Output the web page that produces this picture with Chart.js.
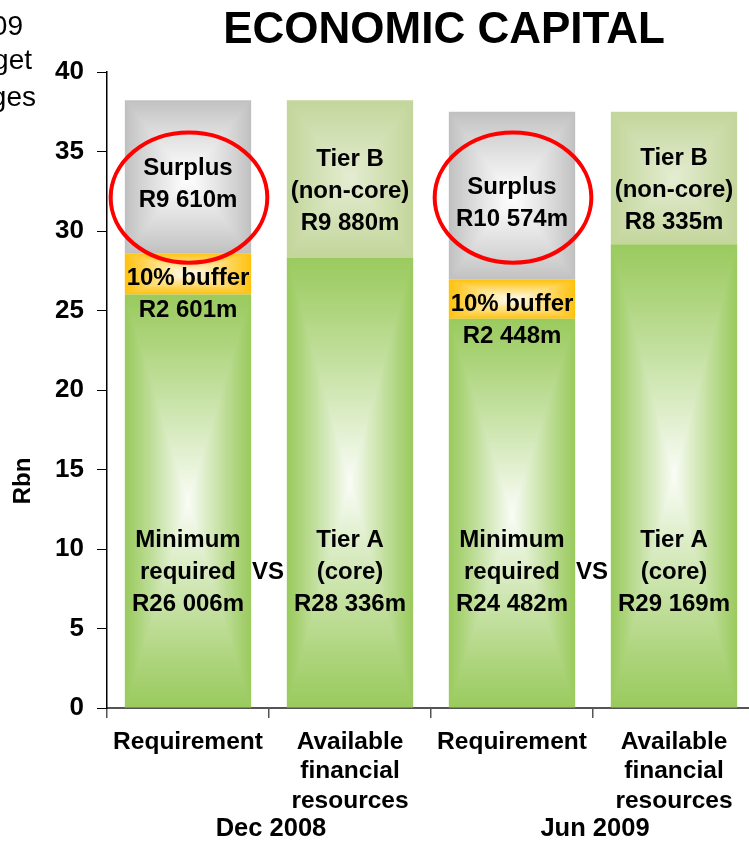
<!DOCTYPE html>
<html>
<head>
<meta charset="utf-8">
<script src="https://cdn.jsdelivr.net/npm/chart.js@4/dist/chart.umd.min.js"></script>
<style>
  html, body { margin: 0; padding: 0; background: #fff; overflow: hidden; }
  #wrap { position: relative; width: 755px; height: 842px; }
</style>
</head>
<body>
<div id="wrap"><canvas id="ecChart" width="755" height="842"></canvas></div>
<script>
/* ---------- data (Rbn) ---------- */
const categories = [["Requirement"], ["Available", "financial", "resources"],
                    ["Requirement"], ["Available", "financial", "resources"]];
const periods    = ["Dec 2008", "Jun 2009"];
const coreCap    = [26.006, 28.336, 24.482, 29.169];   // minimum required / tier A
const buffer10   = [2.601, null, 2.448, null];
const surplus    = [9.610, null, 10.574, null];
const tierB      = [null, 9.880, null, 8.335];
const coreNames  = [["Minimum", "required"], ["Tier A", "(core)"],
                    ["Minimum", "required"], ["Tier A", "(core)"]];
const sideText   = ["09", "get", "ges"];

/* ---------- helpers ---------- */
const FONT = "'Liberation Sans', Arial, Helvetica, sans-serif";
const fmtR = v => "R" + Math.round(v * 1000).toLocaleString("en-US").replace(/,/g, " ") + "m";
const bold = px => `bold ${px}px ${FONT}`;

/* soft white "path" glow laid over each bar segment */
const glowPlugin = {
  id: "glow",
  afterDatasetsDraw(chart) {
    const ctx = chart.ctx;
    chart.data.datasets.forEach((ds, i) => {
      chart.getDatasetMeta(i).data.forEach((bar, j) => {
        if (ds.data[j] == null) return;
        const { x, y, base, width } = bar.getProps(["x", "y", "base", "width"], true);
        const w = Math.round(width), h = Math.round(base - y);
        if (w < 2 || h < 2) return;
        const off = document.createElement("canvas");
        off.width = w; off.height = h;
        const octx = off.getContext("2d");
        const img = octx.createImageData(w, h);
        for (let py = 0; py < h; py++) {
          const dy = Math.abs(py + 0.5 - h / 2) / (h / 2);
          for (let px = 0; px < w; px++) {
            const dx = Math.abs(px + 0.5 - w / 2) / (w / 2);
            const t = Math.max(dx, dy);
            const a = ds.glow * Math.pow(Math.max(0, 1 - t), ds.glowPow);
            const k = (py * w + px) * 4;
            img.data[k] = 255; img.data[k + 1] = 255; img.data[k + 2] = 255;
            img.data[k + 3] = Math.round(a * 255);
          }
        }
        octx.putImageData(img, 0, 0);
        ctx.drawImage(off, Math.round(x - w / 2), Math.round(y));
      });
    });
  }
};

/* text inside the bars, title, axis title, ellipses */
const textPlugin = {
  id: "texts",
  afterDraw(chart) {
    const ctx = chart.ctx;
    const ys = chart.scales.y, xs = chart.scales.x;
    const bar = (ds, j) => chart.getDatasetMeta(ds).data[j];
    const mid = el => (el.y + el.base) / 2;

    ctx.save();
    ctx.fillStyle = "#000";
    ctx.textAlign = "center";
    ctx.textBaseline = "middle";

    const lines = (arr, cx, cy, lh) => {
      const top = cy - (arr.length - 1) * lh / 2;
      arr.forEach((s, k) => ctx.fillText(s, cx, top + k * lh));
    };

    ctx.font = bold(24);
    const LH = 32;
    const lowY = ys.getPixelForValue(8.5);

    categories.forEach((c, j) => {
      const b = bar(0, j);
      lines([...coreNames[j], fmtR(coreCap[j])], b.x, lowY, LH);
      if (buffer10[j] != null) {
        const f = bar(1, j);
        const by = mid(f) + 5;
        ctx.fillText("10% buffer", f.x, by);
        ctx.fillText(fmtR(buffer10[j]), f.x, by + 32);
      }
      if (surplus[j] != null) {
        const s = bar(2, j);
        lines(["Surplus", fmtR(surplus[j])], s.x, mid(s) + 8, LH);
        // red ring round the surplus
        ctx.save();
        ctx.strokeStyle = "#ff0000";
        ctx.lineWidth = 4;
        ctx.beginPath();
        ctx.ellipse(s.x + 1, ys.getPixelForValue(32.1), s.width * 0.62, s.width * 0.515, 0, 0, Math.PI * 2);
        ctx.stroke();
        ctx.restore();
      }
      if (tierB[j] != null) {
        const t = bar(3, j);
        lines(["Tier B", "(non-core)", fmtR(tierB[j])], t.x, mid(t) + 12, LH);
      }
    });

    // "VS" between each requirement / resources pair
    [0, 2].forEach(j => {
      const xm = (xs.getPixelForValue(j) + xs.getPixelForValue(j + 1)) / 2;
      ctx.fillText("VS", xm - 1, lowY);
    });

    // period captions under each pair
    ctx.font = bold(25.5);
    periods.forEach((p, k) => {
      const xm = (xs.getPixelForValue(2 * k) + xs.getPixelForValue(2 * k + 1)) / 2;
      ctx.fillText(p, xm + 2, 829);
    });

    // title
    ctx.font = bold(44);
    ctx.fillText("ECONOMIC CAPITAL", 444, 31);

    // y axis caption
    ctx.save();
    ctx.translate(23, 481);
    ctx.rotate(-Math.PI / 2);
    ctx.font = bold(24);
    ctx.fillText("Rbn", 0, 0);
    ctx.restore();

    // spill-over text from the neighbouring column
    ctx.font = `28px ${FONT}`;
    ctx.textAlign = "right";
    ctx.textBaseline = "alphabetic";
    ctx.fillText(sideText[0], 23, 35);
    ctx.fillText(sideText[1], 32, 69);
    ctx.fillText(sideText[2], 36, 106);
    ctx.restore();
  }
};

new Chart(document.getElementById("ecChart"), {
  type: "bar",
  data: {
    labels: categories,
    datasets: [
      { label: "Core",    data: coreCap,  backgroundColor: "#9bcb5f", glow: 0.95, glowPow: 1.1 },
      { label: "Buffer",  data: buffer10, backgroundColor: "#ffc20e", glow: 0.95, glowPow: 1.0 },
      { label: "Surplus", data: surplus,  backgroundColor: "#c0c0c0", glow: 1.0,  glowPow: 0.9 },
      { label: "Tier B",  data: tierB,    backgroundColor: "#c3d69b", glow: 0.55, glowPow: 1.0 }
    ]
  },
  options: {
    responsive: false,
    animation: false,
    layout: { padding: { top: 72, right: 0, bottom: 0, left: 0 } },
    plugins: { legend: { display: false }, title: { display: false }, tooltip: { enabled: false } },
    datasets: { bar: { barPercentage: 0.78, categoryPercentage: 1 } },
    scales: {
      x: {
        stacked: true,
        grid: { offset: true, drawOnChartArea: false, tickLength: 10, color: "#555", lineWidth: 1.5 },
        border: { color: "#555", width: 2 },
        ticks: { color: "#000", font: { family: FONT, size: 24.5, weight: "bold", lineHeight: 1.19 },
                 padding: 10, maxRotation: 0, autoSkip: false },
        afterFit: s => { s.height = 134; }
      },
      y: {
        stacked: true, min: 0, max: 40,
        grid: { drawOnChartArea: false, tickLength: 10, color: "#000", lineWidth: 1 },
        border: { color: "#000", width: 1.5 },
        ticks: { stepSize: 5, color: "#000", padding: 13,
                 font: { family: FONT, size: 26, weight: "bold" } },
        afterFit: s => { s.width = 107; }
      }
    }
  },
  plugins: [glowPlugin, textPlugin]
});
</script>
</body>
</html>
